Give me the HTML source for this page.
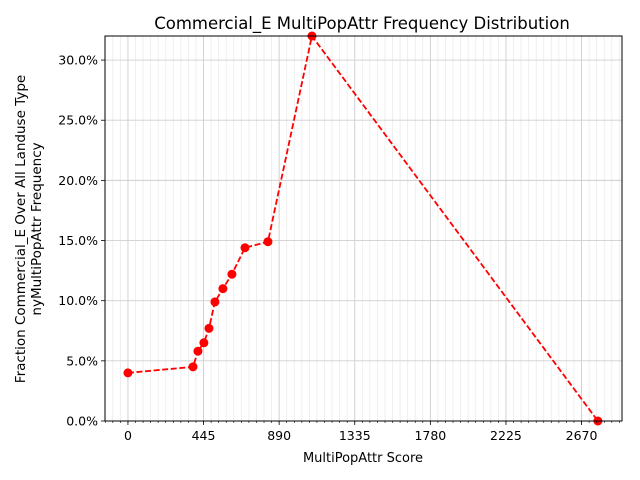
<!DOCTYPE html>
<html><head><meta charset="utf-8"><style>
body{margin:0;background:#fff}
svg{display:block;font-family:"DejaVu Sans","Liberation Sans",sans-serif}
</style></head><body>
<svg id="chart" width="640" height="480" viewBox="0 0 640 480">
<rect width="640" height="480" fill="#fff"/>
<text x="362" y="29" font-size="16.5" text-anchor="middle">Commercial_E MultiPopAttr Frequency Distribution</text>
<text x="363" y="462" font-size="13" text-anchor="middle">MultiPopAttr Score</text>
<text transform="translate(25,229) rotate(-90)" font-size="13.5" text-anchor="middle">Fraction Commercial_E Over All Landuse Type</text>
<text transform="translate(41,229) rotate(-90)" font-size="13.5" text-anchor="middle">nyMultiPopAttr Frequency</text>
<g id="grid"></g><g id="series"></g><g id="axes"></g>
</svg>
<script>
const scores = [0, 383, 412, 447, 477, 512, 559, 612, 689, 824, 1083, 2766];
const fractions = [4.0, 4.5, 5.8, 6.5, 7.7, 9.9, 11.0, 12.2, 14.4, 14.9, 32.0, 0.0];
const xTicks = [0, 445, 890, 1335, 1780, 2225, 2670];
const yTicks = [0, 5, 10, 15, 20, 25, 30];
const yTickLabels = ["0.0%", "5.0%", "10.0%", "15.0%", "20.0%", "25.0%", "30.0%"];

const L=105,R=622,T=36,B=421;
const xMin=-135, xMax=2908, yMin=0, yMax=32;
const xs=v=>L+(v-xMin)/(xMax-xMin)*(R-L);
const ys=v=>B-(v-yMin)/(yMax-yMin)*(B-T);
const NS="http://www.w3.org/2000/svg";
function mk(tag,attrs,parent){const e=document.createElementNS(NS,tag);for(const k in attrs)e.setAttribute(k,attrs[k]);parent.appendChild(e);return e;}
const grid=document.getElementById('grid'),axes=document.getElementById('axes'),series=document.getElementById('series');
for(let v=-44.5*3; v<=xMax; v+=44.5){
  if(v<xMin) continue;
  const x=xs(v);
  const g=mk('line',{x1:x,x2:x,y1:T,y2:B,stroke:'#ebebeb','stroke-width':0.8},grid);
  
  
  const t=mk('line',{x1:x,x2:x,y1:B,y2:B+2,stroke:'#000','stroke-width':0.6},axes);
  
  
}
xTicks.forEach(v=>{
  const x=xs(v);
  const g=mk('line',{x1:x,x2:x,y1:T,y2:B,stroke:'#cfcfcf','stroke-width':0.9},grid);
  
  
  mk('line',{x1:x,x2:x,y1:B,y2:B+4,stroke:'#000','stroke-width':0.8},axes);
  const t=mk('text',{x:x,y:B+19,'font-size':12.5,'text-anchor':'middle'},axes);
  t.textContent=v;
  
  
});
yTicks.forEach((v,i)=>{
  const y=ys(v);
  const g=mk('line',{x1:L,x2:R,y1:y,y2:y,stroke:'#cfcfcf','stroke-width':0.9},grid);
  
  
  mk('line',{x1:L-4,x2:L,y1:y,y2:y,stroke:'#000','stroke-width':0.8},axes);
  const t=mk('text',{x:L-7,y:y+4.5,'font-size':12.5,'text-anchor':'end'},axes);
  t.textContent=yTickLabels[i];
  
  
});
const frame=mk('rect',{x:L,y:T,width:R-L,height:B-T,fill:'none',stroke:'#000','stroke-width':1},axes);


const pts=scores.map((s,i)=>xs(s)+','+ys(fractions[i])).join(' ');
const line=mk('polyline',{points:pts,fill:'none',stroke:'#ff0000','stroke-width':1.8,'stroke-dasharray':'6,2.6'},series);


scores.forEach((s,i)=>{
  const c=mk('circle',{cx:xs(s),cy:ys(fractions[i]),r:4.5,fill:'#ff0000'},series);
  
  
});
</script>
</body></html>
